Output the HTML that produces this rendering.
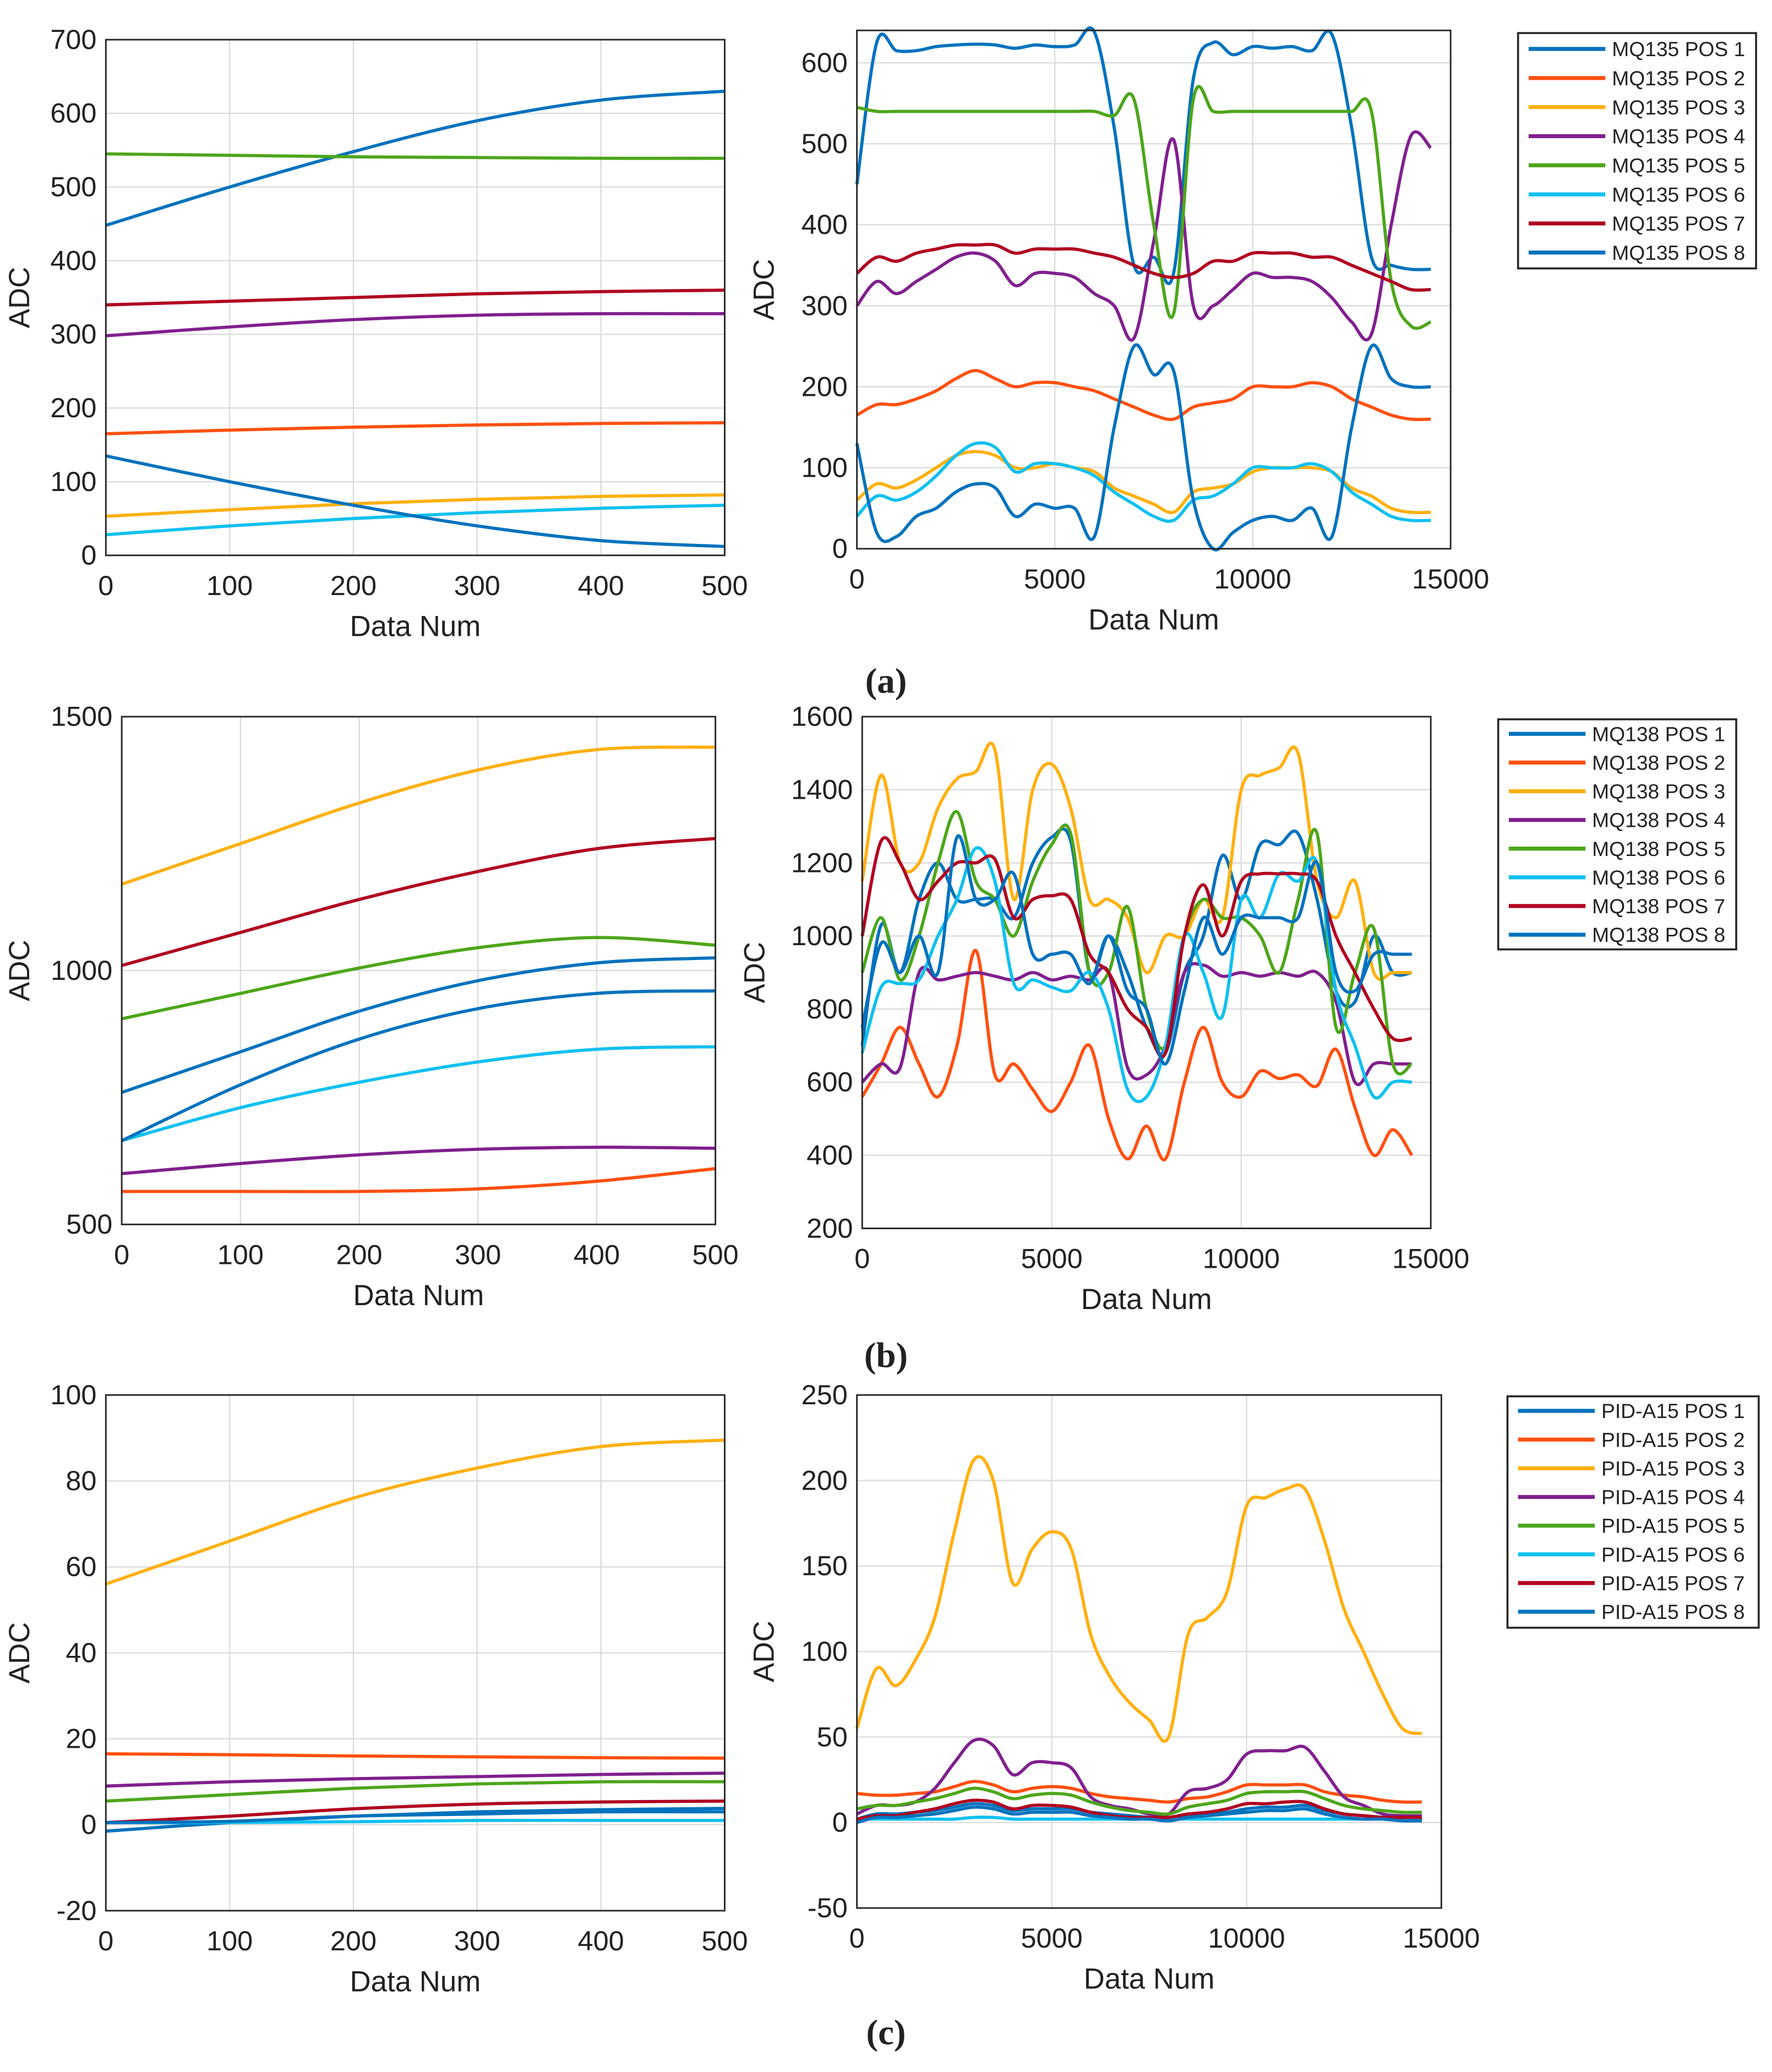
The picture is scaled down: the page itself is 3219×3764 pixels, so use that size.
<!DOCTYPE html>
<html><head><meta charset="utf-8"><style>
html,body{margin:0;padding:0;background:#fff;}
svg{display:block;}
text{font-family:"Liberation Sans",Arial,sans-serif;fill:#222;}
</style></head><body>
<svg id="fig" xmlns="http://www.w3.org/2000/svg" width="3219" height="3764" viewBox="0 0 1340 1567"></svg>
<script>
// ---------- data ----------
const leftX = [0,100,200,300,400,500];
const rightX = [0,500,1000,1500,2000,2500,3000,3500,4000,4500,5000,5500,6000,6500,7000,7500,8000,8500,9000,9500,10000,10500,11000,11500,12000,12500,13000,13500,14000,14500];

const aLeft1 = [448,500,548,590,618,630];
const aLeft2 = [165,170,174,177,179,180];
const aLeft3 = [53,62,70,76,80,82];
const aLeft4 = [298,310,320,326,328,328];
const aLeft5 = [545,543,541,540,539,539];
const aLeft6 = [28,40,50,58,64,68];
const aLeft7 = [340,345,350,355,358,360];
const aLeft8 = [135,100,68,40,20,12];

const aRight1 = [450,625,615,615,620,622,623,622,618,622,620,622,638,520,350,360,340,580,625,610,620,618,620,615,635,520,360,350,345,345];
const aRight2 = [165,178,178,185,195,210,220,210,200,205,205,200,195,185,175,165,160,175,180,185,200,200,200,205,200,185,175,165,160,160];
const aRight3 = [60,80,75,85,100,115,120,115,100,100,105,100,95,75,65,55,45,70,75,80,95,100,100,100,95,75,65,50,45,45];
const aRight4 = [300,330,315,330,345,360,365,355,325,340,340,335,315,300,260,380,505,300,300,320,340,335,335,330,310,280,265,400,510,495];
const aRight5 = [545,540,540,540,540,540,540,540,540,540,540,540,540,535,555,400,290,555,540,540,540,540,540,540,540,540,540,330,275,280];
const aRight6 = [40,65,60,70,90,115,130,125,95,105,105,100,90,70,55,40,35,60,65,80,100,100,100,105,95,70,55,40,35,35];
const aRight7 = [340,360,355,365,370,375,375,375,365,370,370,370,365,360,350,340,335,340,355,355,365,365,365,360,360,350,340,330,320,320];
const aRight8 = [130,20,15,40,50,70,80,75,40,55,50,50,15,150,250,215,220,60,0,20,35,40,35,50,15,150,250,210,200,200];

const bLeft1 = [760,840,920,980,1015,1025];
const bLeft2 = [565,565,565,570,585,610];
const bLeft3 = [1170,1250,1330,1395,1435,1440];
const bLeft4 = [600,620,637,648,652,650];
const bLeft5 = [905,955,1005,1045,1065,1050];
const bLeft6 = [665,730,780,820,845,850];
const bLeft7 = [1010,1075,1140,1195,1240,1260];
const bLeft8 = [665,775,865,925,955,960];

const bRight1 = [700,1030,900,1100,1200,1100,1100,1100,1050,1200,1270,1260,900,1000,900,750,680,900,1000,1220,1100,1250,1250,1280,1100,850,820,1000,900,900];
const bRight2 = [560,650,750,650,560,700,960,620,650,580,520,600,700,500,390,480,390,600,750,600,560,630,610,620,590,690,530,400,470,400];
const bRight3 = [1150,1440,1200,1200,1350,1430,1450,1510,1100,1400,1470,1350,1100,1100,1050,900,1000,1000,1100,1050,1400,1440,1460,1500,1150,1050,1150,900,900,900];
const bRight4 = [600,650,640,900,880,890,900,890,880,900,880,890,880,900,640,620,700,900,920,890,900,890,900,890,900,820,600,650,650,650];
const bRight5 = [900,1050,880,1000,1200,1340,1150,1100,1000,1150,1250,1280,900,900,1080,800,700,1000,1100,1050,1050,1000,900,1100,1280,750,900,1020,650,650];
const bRight6 = [680,860,870,880,1000,1100,1240,1150,870,880,860,850,900,800,580,560,700,1000,900,780,1100,1050,1170,1150,1200,850,700,560,600,600];
const bRight7 = [1000,1260,1200,1100,1150,1200,1200,1210,1050,1100,1110,1100,950,900,800,750,680,1000,1140,1000,1150,1170,1170,1170,1150,1000,900,800,720,720];
const bRight8 = [750,980,900,1000,900,1270,1100,1100,1170,950,950,950,870,1000,850,800,650,850,1050,950,1050,1050,1050,1050,1200,900,850,950,950,950];

const cLeft1 = [-1.5,0.5,2,3,3.5,3.8];
const cLeft2 = [16.5,16.3,16,15.8,15.6,15.5];
const cLeft3 = [56,66,76,83,88,89.5];
const cLeft4 = [9,10,10.7,11.2,11.7,12];
const cLeft5 = [5.5,7,8.5,9.5,10,10];
const cLeft6 = [0.5,0.5,0.7,1,1,1];
const cLeft7 = [0.5,2,3.7,4.8,5.3,5.5];
const cLeft8 = [0.5,0.8,2,2.5,3,3];

const cRight1 = [2,5,5,6,7,9,11,10,7,8,8,8,6,5,4,3,2,4,5,6,8,9,9,10,7,5,4,3,2,2];
const cRight2 = [17,16,16,17,18,21,24,22,18,20,21,20,17,15,14,13,12,14,15,18,22,22,22,22,18,16,15,13,12,12];
const cRight3 = [55,90,80,95,120,170,212,200,140,160,170,160,110,85,70,60,50,110,120,135,185,190,195,195,165,125,100,75,55,52];
const cRight4 = [5,10,10,12,20,35,48,45,28,35,35,32,15,10,8,5,5,18,20,25,40,42,42,44,30,15,10,5,4,4];
const cRight5 = [8,10,10,12,14,17,20,18,14,16,17,16,12,9,7,6,5,9,11,13,17,18,18,18,14,10,8,7,6,6];
const cRight6 = [2,2,2,2,2,2,3,3,2,2,2,2,2,2,2,2,2,2,2,2,2,2,2,2,2,2,2,2,2,2];
const cRight7 = [2,4,4,6,8,11,13,12,8,10,10,9,6,4,3,3,3,5,6,8,11,11,12,12,8,5,4,3,3,3];
const cRight8 = [0,3,3,4,5,7,9,8,5,6,6,6,4,3,2,2,1,3,4,5,6,7,7,8,5,3,2,2,1,1];

const colors = ['#0072BD','#FF5010','#FFB010','#80208E','#4DA61A','#10C0F0','#B00020','#0072BD'];

// ---------- rendering ----------
const NS='http://www.w3.org/2000/svg';
const svg=document.getElementById('fig');
function mk(tag,attrs,parent){const e=document.createElementNS(NS,tag);for(const k in attrs)e.setAttribute(k,attrs[k]);(parent||svg).appendChild(e);return e;}
function smooth(pts){
  let d='M'+pts[0][0].toFixed(2)+','+pts[0][1].toFixed(2);
  for(let i=0;i<pts.length-1;i++){
    const p0=pts[Math.max(0,i-1)],p1=pts[i],p2=pts[i+1],p3=pts[Math.min(pts.length-1,i+2)];
    const c1=[p1[0]+(p2[0]-p0[0])/6,p1[1]+(p2[1]-p0[1])/6];
    const c2=[p2[0]-(p3[0]-p1[0])/6,p2[1]-(p3[1]-p1[1])/6];
    d+=' C'+c1[0].toFixed(2)+','+c1[1].toFixed(2)+' '+c2[0].toFixed(2)+','+c2[1].toFixed(2)+' '+p2[0].toFixed(2)+','+p2[1].toFixed(2);
  }
  return d;
}
function panel(cfg){
  const g=mk('g',{});
  
  
  const sx=v=>cfg.x0+(v-cfg.xmin)/(cfg.xmax-cfg.xmin)*(cfg.x1-cfg.x0);
  const sy=v=>cfg.y1-(v-cfg.ymin)/(cfg.ymax-cfg.ymin)*(cfg.y1-cfg.y0);
  cfg.xt.forEach(t=>{
    const X=sx(t);
    if(t!==cfg.xmin&&t!==cfg.xmax){const l=mk('line',{x1:X,x2:X,y1:cfg.y0,y2:cfg.y1,stroke:'#dcdcdc','stroke-width':1},g);
      }
    const tx=mk('text',{x:X,y:cfg.y1+30,'text-anchor':'middle','font-size':21},g);tx.textContent=t;
    
  });
  cfg.yt.forEach(t=>{
    const Y=sy(t);
    if(t!==cfg.ymin&&t!==cfg.ymax){const l=mk('line',{x1:cfg.x0,x2:cfg.x1,y1:Y,y2:Y,stroke:'#dcdcdc','stroke-width':1},g);
      }
    const tx=mk('text',{x:cfg.x0-7,y:Y+7,'text-anchor':'end','font-size':21},g);tx.textContent=t;
    
  });
  cfg.series.forEach((s,i)=>{
    const pts=s.map((v,j)=>[sx(cfg.xs[j]),sy(v)]);
    const p=mk('path',{d:smooth(pts),fill:'none',stroke:colors[i],'stroke-width':2.4,'stroke-linejoin':'round'},g);
    
    
  });
  const b=mk('rect',{x:cfg.x0,y:cfg.y0,width:cfg.x1-cfg.x0,height:cfg.y1-cfg.y0,fill:'none',stroke:'#262626','stroke-width':1.2},g);
  
  const xl=mk('text',{x:(cfg.x0+cfg.x1)/2,y:cfg.y1+61,'text-anchor':'middle','font-size':22},g);xl.textContent='Data Num';
  
  const yx=cfg.ylx,yy=(cfg.y0+cfg.y1)/2;
  const yl=mk('text',{x:yx,y:yy,'text-anchor':'middle','font-size':22,transform:'rotate(-90 '+yx+' '+yy+')'},g);yl.textContent='ADC';
  
}
function legend(x,y,w,h,prefix,ys,step){
  const g=mk('g',{});
  
  
  mk('rect',{x:x,y:y,width:w,height:h,fill:'#fff',stroke:'#262626','stroke-width':1.5},g);
  for(let i=0;i<8;i++){
    const Y=ys+i*step;
    const e=mk('g',{},g);
    
    
    mk('line',{x1:x+8,x2:x+66,y1:Y,y2:Y,stroke:colors[i],'stroke-width':3},e);
    const t=mk('text',{x:x+71,y:Y+5.5,'font-size':15.5},e);t.textContent=prefix+' POS '+(i+1);
  }
}
panel({name:'panel-a-left',x0:80,x1:548,y0:30,y1:420,xmin:0,xmax:500,ymin:0,ymax:700,xt:[0,100,200,300,400,500],yt:[0,100,200,300,400,500,600,700],xs:leftX,series:[aLeft1,aLeft2,aLeft3,aLeft4,aLeft5,aLeft6,aLeft7,aLeft8],ylx:22});
panel({name:'panel-a-right',x0:648,x1:1097,y0:23,y1:415,xmin:0,xmax:15000,ymin:0,ymax:640,xt:[0,5000,10000,15000],yt:[0,100,200,300,400,500,600],xs:rightX,series:[aRight1,aRight2,aRight3,aRight4,aRight5,aRight6,aRight7,aRight8],ylx:585});
panel({name:'panel-b-left',x0:92,x1:541,y0:542,y1:926,xmin:0,xmax:500,ymin:500,ymax:1500,xt:[0,100,200,300,400,500],yt:[500,1000,1500],xs:leftX,series:[bLeft1,bLeft2,bLeft3,bLeft4,bLeft5,bLeft6,bLeft7,bLeft8],ylx:22});
panel({name:'panel-b-right',x0:652,x1:1082,y0:542,y1:929,xmin:0,xmax:15000,ymin:200,ymax:1600,xt:[0,5000,10000,15000],yt:[200,400,600,800,1000,1200,1400,1600],xs:rightX,series:[bRight1,bRight2,bRight3,bRight4,bRight5,bRight6,bRight7,bRight8],ylx:578});
panel({name:'panel-c-left',x0:80,x1:548,y0:1055,y1:1445,xmin:0,xmax:500,ymin:-20,ymax:100,xt:[0,100,200,300,400,500],yt:[-20,0,20,40,60,80,100],xs:leftX,series:[cLeft1,cLeft2,cLeft3,cLeft4,cLeft5,cLeft6,cLeft7,cLeft8],ylx:22});
panel({name:'panel-c-right',x0:648,x1:1090,y0:1055,y1:1443,xmin:0,xmax:15000,ymin:-50,ymax:250,xt:[0,5000,10000,15000],yt:[-50,0,50,100,150,200,250],xs:rightX,series:[cRight1,cRight2,cRight3,cRight4,cRight5,cRight6,cRight7,cRight8],ylx:585});
legend(1148,25,180,178,'MQ135',37,22);
legend(1133,544,180,174,'MQ138',555,21.7);
legend(1140,1056,190,175,'PID-A15',1067,21.7);
[['(a)',515],['(b)',1025],['(c)',1537]].forEach(([s,y])=>{
  const t=mk('text',{x:670,y:y+9,'text-anchor':'middle','font-size':27,style:'font-family:"Liberation Serif",serif;font-weight:bold'});
  t.textContent=s;
  
  
});
</script>
</body></html>
